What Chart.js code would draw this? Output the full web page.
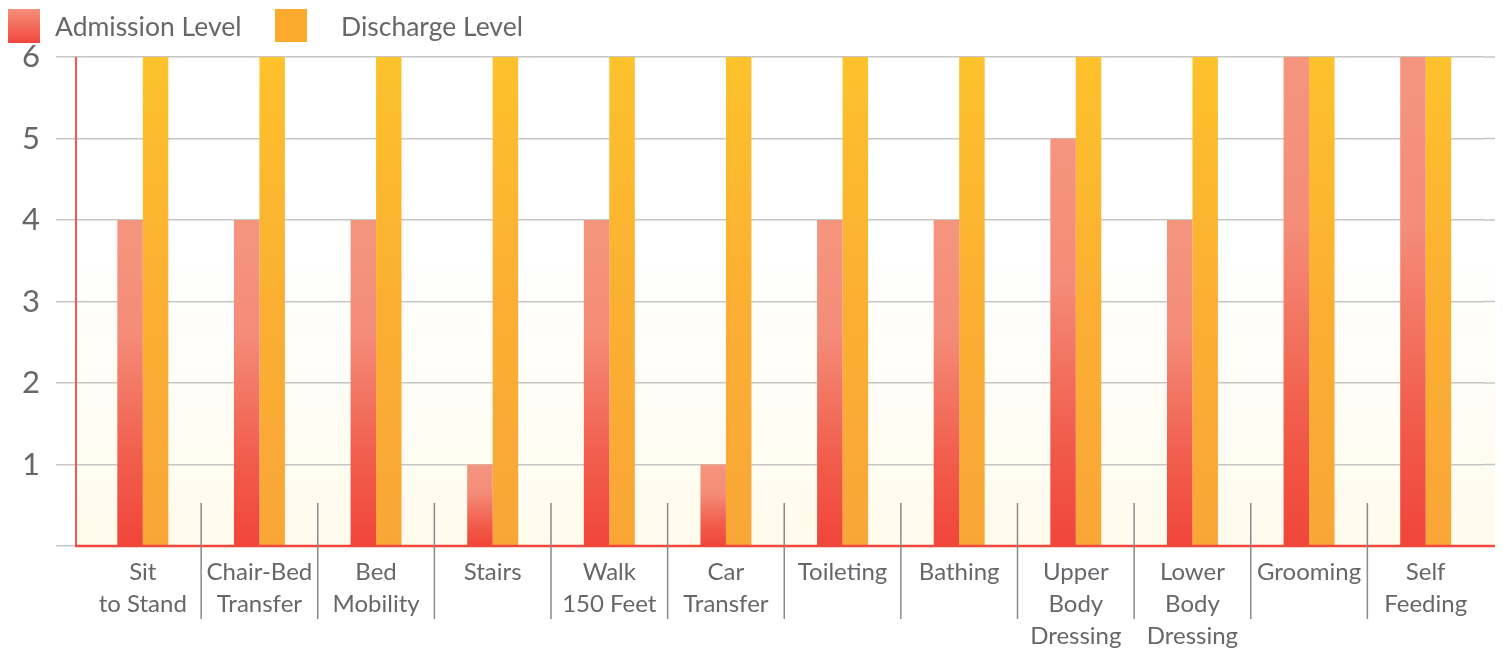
<!DOCTYPE html>
<html>
<head>
<meta charset="utf-8">
<title>Admission vs Discharge Level</title>
<script src="https://cdn.jsdelivr.net/npm/chart.js"></script>
<style>
  html, body { margin: 0; padding: 0; background: #fff; }
  #wrap { width: 1503px; height: 649px; position: relative; }
</style>
</head>
<body>
<div id="wrap"><canvas id="chart"></canvas></div>
<script>
// Datos del gráfico
const categories = [
  ['Sit', 'to Stand'],
  ['Chair-Bed', 'Transfer'],
  ['Bed', 'Mobility'],
  'Stairs',
  ['Walk', '150 Feet'],
  ['Car', 'Transfer'],
  'Toileting',
  'Bathing',
  ['Upper', 'Body', 'Dressing'],
  ['Lower', 'Body', 'Dressing'],
  'Grooming',
  ['Self', 'Feeding']
];
const admissionLevels = [4, 4, 4, 1, 4, 1, 4, 4, 5, 4, 6, 6];
const dischargeLevels = [6, 6, 6, 6, 6, 6, 6, 6, 6, 6, 6, 6];
const yTicks = [1, 2, 3, 4, 5, 6];
const seriesNames = ['Admission Level', 'Discharge Level'];

const FONT = 'Lato, "Open Sans", sans-serif';
const TEXT_COLOR = '#67676b';
const RED = '#f2483c';

const admissionStops = [[0, '#f5957e'], [0.35, '#f48c78'], [0.75, '#f15b4a'], [1, '#f0453b']];
const dischargeStops = [[0, '#fdc22c'], [0.5, '#fbaf32'], [1, '#f9a637']];

// Degradado vertical por barra
function barGradient(ctx, stops) {
  const chart = ctx.chart;
  if (!chart.chartArea || ctx.type !== 'data') return stops[stops.length - 1][1];
  const y = chart.scales.y;
  const top = y.getPixelForValue(ctx.raw);
  const bottom = y.getPixelForValue(0);
  const g = chart.ctx.createLinearGradient(0, top, 0, bottom);
  stops.forEach(([o, c]) => g.addColorStop(o, c));
  return g;
}

// Fondo, ejes rojos, separadores y leyenda
const decorPlugin = {
  id: 'decor',
  beforeDraw(chart) {
    const { ctx, chartArea } = chart;
    ctx.save();
    const g = ctx.createLinearGradient(0, chartArea.top, 0, chartArea.bottom);
    g.addColorStop(0, '#ffffff');
    g.addColorStop(0.4, '#ffffff');
    g.addColorStop(1, '#fffbec');
    ctx.fillStyle = g;
    ctx.fillRect(76, chartArea.top, 1495 - 76, chartArea.bottom - chartArea.top);
    ctx.restore();
  },
  beforeDatasetsDraw(chart) {
    // prolongar las líneas de la cuadrícula hasta el borde derecho
    const { ctx, chartArea, scales } = chart;
    ctx.save();
    ctx.strokeStyle = '#c6c6c6';
    ctx.lineWidth = 1.5;
    yTicks.forEach(v => {
      const py = scales.y.getPixelForValue(v);
      ctx.beginPath();
      ctx.moveTo(chartArea.right, py);
      ctx.lineTo(1495, py);
      ctx.stroke();
    });
    ctx.restore();
  },
  afterDraw(chart) {
    const { ctx, chartArea, scales } = chart;
    ctx.save();
    // eje Y rojo
    ctx.strokeStyle = RED;
    ctx.lineWidth = 1.8;
    ctx.beginPath();
    ctx.moveTo(76, chartArea.top);
    ctx.lineTo(76, chartArea.bottom);
    ctx.stroke();
    // eje X rojo
    ctx.lineWidth = 2.5;
    ctx.beginPath();
    ctx.moveTo(75, chartArea.bottom);
    ctx.lineTo(1495, chartArea.bottom);
    ctx.stroke();
    // separadores de categorías
    ctx.strokeStyle = '#8a8a8a';
    ctx.lineWidth = 1.5;
    for (let i = 0; i < categories.length - 1; i++) {
      const px = (scales.x.getPixelForValue(i) + scales.x.getPixelForValue(i + 1)) / 2;
      ctx.beginPath();
      ctx.moveTo(px, 503);
      ctx.lineTo(px, 619);
      ctx.stroke();
    }
    // leyenda
    const lg = ctx.createLinearGradient(0, 9, 0, 43);
    lg.addColorStop(0, '#f5907a');
    lg.addColorStop(1, '#f0463b');
    ctx.fillStyle = lg;
    ctx.fillRect(8, 9, 32, 34);
    ctx.fillStyle = '#fbaa2e';
    ctx.fillRect(275, 9, 32, 33);
    ctx.fillStyle = TEXT_COLOR;
    ctx.font = '26.5px ' + FONT;
    ctx.textBaseline = 'middle';
    ctx.textAlign = 'left';
    ctx.fillText(seriesNames[0], 55, 27);
    ctx.fillText(seriesNames[1], 341, 27);
    ctx.restore();
  }
};

new Chart(document.getElementById('chart'), {
  type: 'bar',
  data: {
    labels: categories,
    datasets: [
      {
        label: seriesNames[0],
        data: admissionLevels,
        backgroundColor: ctx => barGradient(ctx, admissionStops),
        borderWidth: 0,
        barPercentage: 1,
        categoryPercentage: 0.437
      },
      {
        label: seriesNames[1],
        data: dischargeLevels,
        backgroundColor: ctx => barGradient(ctx, dischargeStops),
        borderWidth: 0,
        barPercentage: 1,
        categoryPercentage: 0.437
      }
    ]
  },
  options: {
    responsive: true,
    maintainAspectRatio: false,
    animation: false,
    devicePixelRatio: 1,
    layout: { padding: { left: 0, right: 19, top: 0, bottom: 0 } },
    plugins: {
      legend: { display: false },
      tooltip: { enabled: false }
    },
    scales: {
      x: {
        offset: true,
        grid: { display: false, drawTicks: false },
        border: { display: false },
        ticks: {
          autoSkip: false,
          maxRotation: 0,
          padding: 10,
          color: TEXT_COLOR,
          font: { family: FONT, size: 24, lineHeight: 1.33 }
        },
        afterFit: scale => { scale.height = 103; }
      },
      y: {
        min: 0,
        max: 6,
        grid: { color: '#c6c6c6', lineWidth: 1.5, tickLength: 28.5 },
        border: { display: false },
        ticks: {
          padding: 16,
          color: TEXT_COLOR,
          font: { family: FONT, size: 31 },
          callback: v => (v === 0 ? '' : v)
        },
        afterBuildTicks: scale => {
          scale.ticks = [0, ...yTicks].map(v => ({ value: v }));
        },
        afterFit: scale => {
          scale.width = 84.5;
          scale.paddingTop = 57;
        }
      }
    }
  },
  plugins: [decorPlugin]
});
</script>
</body>
</html>
